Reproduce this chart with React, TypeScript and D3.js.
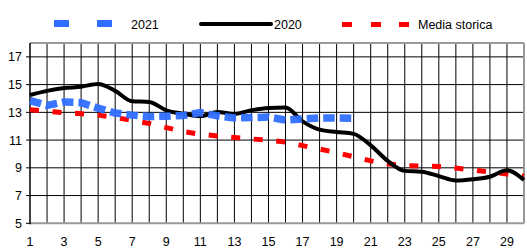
import { scaleLinear, line, curveMonotoneX, range } from 'd3';

const days = range(1, 31);
const xTicks = range(1, 30, 2);
const yTicks = [5, 7, 9, 11, 13, 15, 17];

const values2021 = [13.85, 13.5, 13.75, 13.7, 13.3, 12.95, 12.8, 12.7, 12.72, 12.78, 12.98, 12.75, 12.6, 12.62, 12.66, 12.45, 12.52, 12.6, 12.6, 12.58];
const values2020 = [14.25, 14.55, 14.75, 14.85, 15.05, 14.55, 13.8, 13.75, 13.15, 12.9, 12.72, 13.02, 12.88, 13.15, 13.32, 13.35, 12.35, 11.75, 11.58, 11.45, 10.62, 9.5, 8.78, 8.72, 8.4, 8.08, 8.17, 8.36, 8.82, 8.12];
const valuesMedia = [13.18, 13.08, 12.98, 12.9, 12.8, 12.62, 12.42, 12.2, 11.9, 11.62, 11.42, 11.3, 11.18, 11.08, 11.0, 10.85, 10.6, 10.35, 10.1, 9.8, 9.5, 9.3, 9.15, 9.13, 9.1, 8.98, 8.85, 8.7, 8.55, 8.4];

const W = 527;
const H = 251;
const left = 30;
const right = 524;
const top = 43;
const bottom = 223.3;

const font = 'Liberation Sans, Arial, sans-serif';

export default function App() {
  const x = scaleLinear().domain([1, 30]).range([left, right]);
  const y = scaleLinear().domain([5, 18]).range([bottom, top]);

  const straight = line<number>()
    .x((_, i) => x(days[i]))
    .y((d) => y(d));
  const smooth = line<number>()
    .x((_, i) => x(days[i]))
    .y((d) => y(d))
    .curve(curveMonotoneX);

  return (
    <svg width={W} height={H} style={{ position: 'absolute', left: 0, top: 0, background: '#fff' }}>
      {/* grid */}
      {days.slice(1, 29).map((d) => (
        <line key={'v' + d} x1={x(d)} x2={x(d)} y1={top} y2={bottom} stroke="#000" strokeWidth={1} />
      ))}
      {yTicks.slice(1).map((t) => (
        <line key={'h' + t} x1={left - 4} x2={right} y1={y(t)} y2={y(t)} stroke="#000" strokeWidth={1} />
      ))}
      <line x1={left - 4} x2={left} y1={y(5)} y2={y(5)} stroke="#000" />
      {/* border */}
      <line x1={left} x2={right} y1={top} y2={top} stroke="#999" strokeWidth={2} />
      <line x1={right} x2={right} y1={top} y2={bottom} stroke="#999" strokeWidth={2} />
      <line x1={left} x2={right} y1={bottom} y2={bottom} stroke="#999" strokeWidth={2} />
      <line x1={left} x2={left} y1={top} y2={bottom + 1} stroke="#000" strokeWidth={1.5} />

      {/* axis labels */}
      {yTicks.map((t) => (
        <text key={'yl' + t} x={22} y={y(t) + 4.5} textAnchor="end" fontFamily={font} fontSize={12.5} fill="#000">
          {t}
        </text>
      ))}
      {xTicks.map((t) => (
        <text key={'xl' + t} x={x(t)} y={246} textAnchor="middle" fontFamily={font} fontSize={12.5} fill="#000">
          {t}
        </text>
      ))}

      {/* series */}
      <path d={straight(valuesMedia) || ''} fill="none" stroke="#ff0000" strokeWidth={5} strokeDasharray="9,13.6" />
      <path d={smooth(values2020) || ''} fill="none" stroke="#000" strokeWidth={4} strokeLinejoin="round" />
      <path
        d={straight(values2021) || ''}
        fill="none"
        stroke="#2f6fff"
        strokeOpacity={0.95}
        strokeWidth={7.5}
        strokeDasharray="11.5,5"
      />

      {/* legend */}
      <rect x={54} y={20} width={15} height={7} fill="#2f6fff" />
      <rect x={97} y={20} width={15} height={7} fill="#2f6fff" />
      <text x={131} y={29} fontFamily={font} fontSize={12.5} fill="#000">2021</text>
      <line x1={201} x2={271} y1={24} y2={24} stroke="#000" strokeWidth={4} strokeLinecap="round" />
      <text x={274} y={29} fontFamily={font} fontSize={12.5} fill="#000">2020</text>
      <rect x={342} y={22} width={10} height={5} fill="#ff0000" />
      <rect x={371} y={22} width={10} height={5} fill="#ff0000" />
      <rect x={399} y={22} width={10} height={5} fill="#ff0000" />
      <text x={418} y={29} fontFamily={font} fontSize={12.5} fill="#000">Media storica</text>
    </svg>
  );
}
